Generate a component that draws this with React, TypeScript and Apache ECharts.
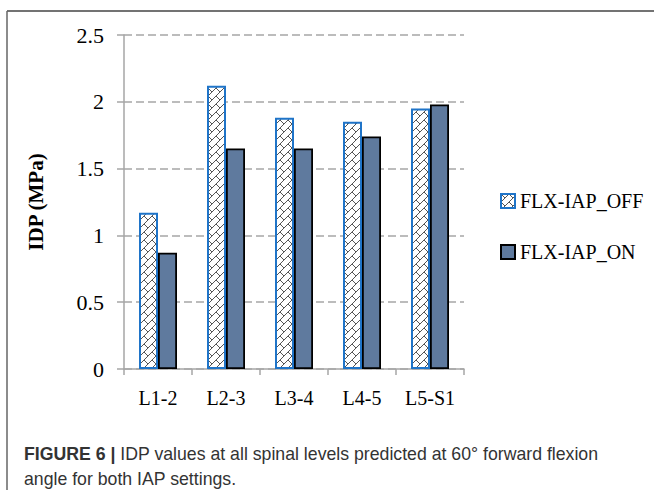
import React, { useEffect, useRef } from "react";
import * as echarts from "echarts";

const categories = ["L1-2", "L2-3", "L3-4", "L4-5", "L5-S1"];
const offValues = [1.17, 2.12, 1.88, 1.85, 1.95];
const onValues = [0.87, 1.65, 1.65, 1.74, 1.98];
const seriesNames = ["FLX-IAP_OFF", "FLX-IAP_ON"];
const yTicks = { min: 0, max: 2.5, interval: 0.5 };

function makeHatch(): HTMLCanvasElement {
  const c = document.createElement("canvas");
  c.width = 8;
  c.height = 8;
  const ctx = c.getContext("2d")!;
  ctx.fillStyle = "#ffffff";
  ctx.fillRect(0, 0, 8, 8);
  ctx.strokeStyle = "#555555";
  ctx.lineWidth = 1;
  ctx.beginPath();
  ctx.moveTo(-1, 9);
  ctx.lineTo(9, -1);
  ctx.moveTo(-1, 1);
  ctx.lineTo(1, -1);
  ctx.moveTo(7, 9);
  ctx.lineTo(9, 7);
  ctx.moveTo(0, 0);
  ctx.lineTo(4, 4);
  ctx.stroke();
  return c;
}

export default function App() {
  const ref = useRef<HTMLDivElement>(null);
  useEffect(() => {
    if (!ref.current) return;
    const chart = echarts.init(ref.current, undefined, { renderer: "svg" });
    const hatch = makeHatch();
    const serif = "Liberation Serif";
    chart.setOption({
      animation: false,
      backgroundColor: "#ffffff",
      textStyle: { fontFamily: serif },
      grid: { left: 124, right: 190, top: 35, bottom: 121 },
      legend: {
        orient: "vertical",
        left: 495,
        top: 186,
        itemGap: 31,
        itemWidth: 14,
        itemHeight: 14,
        icon: "rect",
        textStyle: { fontFamily: serif, fontSize: 20, color: "#000" },
        data: seriesNames,
      },
      xAxis: {
        type: "category",
        data: categories,
        axisLine: { lineStyle: { color: "#a6a6a6", width: 1.5 } },
        axisTick: { show: true, length: 6, lineStyle: { color: "#a6a6a6", width: 1.5 } },
        axisLabel: { fontFamily: serif, fontSize: 20, color: "#000", margin: 19 },
      },
      yAxis: {
        type: "value",
        min: yTicks.min,
        max: yTicks.max,
        interval: yTicks.interval,
        name: "IDP (MPa)",
        nameLocation: "middle",
        nameGap: 78,
        nameTextStyle: { fontFamily: serif, fontSize: 21, fontWeight: "bold", color: "#000" },
        axisLine: { show: true, lineStyle: { color: "#a6a6a6", width: 1.5 } },
        axisTick: { show: true, length: 7, lineStyle: { color: "#a6a6a6", width: 1.5 } },
        axisLabel: { fontFamily: serif, fontSize: 22, color: "#000", margin: 20 },
        splitLine: { show: true, lineStyle: { color: "#a6a6a6", width: 1.5, type: [8, 4] } },
      },
      series: [
        {
          name: seriesNames[0],
          type: "bar",
          data: offValues,
          barWidth: 19,
          barGap: "0%",
          itemStyle: {
            color: { image: hatch, repeat: "repeat" },
            borderColor: "#1f74c8",
            borderWidth: 2,
          },
        },
        {
          name: seriesNames[1],
          type: "bar",
          data: onValues,
          barWidth: 19,
          barGap: "0%",
          itemStyle: { color: "#5f7a9e", borderColor: "#000000", borderWidth: 1.8 },
        },
      ],
      graphic: [
        { type: "line", shape: { x1: 7, y1: 11, x2: 654, y2: 11 }, style: { stroke: "#444", lineWidth: 1.5 } },
        { type: "line", shape: { x1: 7, y1: 11, x2: 7, y2: 490 }, style: { stroke: "#666", lineWidth: 1.5 } },
        {
          type: "text",
          left: 24,
          top: 441,
          style: {
            text: "{b|FIGURE 6 |} IDP values at all spinal levels predicted at 60° forward flexion\nangle for both IAP settings.",
            fontFamily: "Liberation Sans",
            fontSize: 17.7,
            lineHeight: 25,
            fill: "#333",
            rich: { b: { fontFamily: "Liberation Sans", fontSize: 17.7, fontWeight: "bold", fill: "#333" } },
          },
        },
      ],
    });
    return () => chart.dispose();
  }, []);
  return (
    <div
      ref={ref}
      style={{ position: "fixed", left: 0, top: 0, width: 654, height: 490 }}
    />
  );
}
